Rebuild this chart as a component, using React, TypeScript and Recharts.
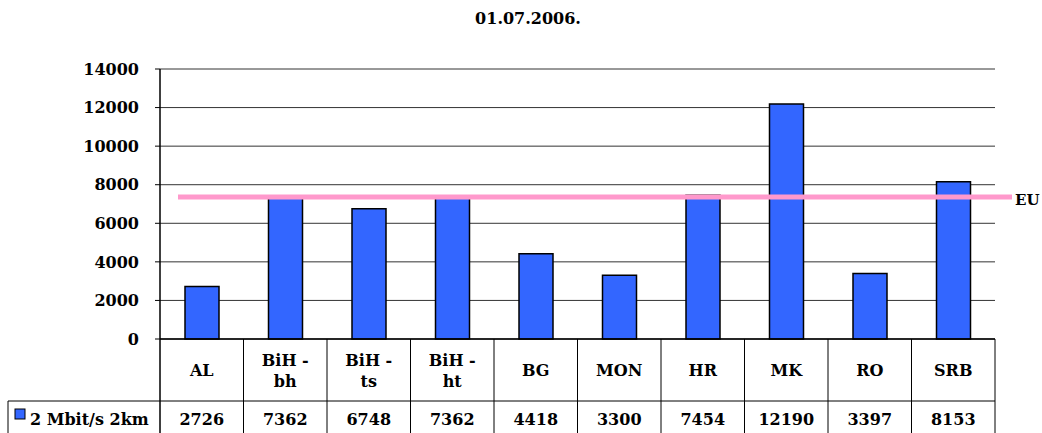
import {
  Bar,
  BarChart,
  CartesianGrid,
  ReferenceLine,
  XAxis,
  YAxis,
} from "recharts";

// values
const title = "01.07.2006.";
const seriesName = "2 Mbit/s 2km";
const categories = ["AL", "BiH - bh", "BiH - ts", "BiH - ht", "BG", "MON", "HR", "MK", "RO", "SRB"];
const values = [2726, 7362, 6748, 7362, 4418, 3300, 7454, 12190, 3397, 8153];
const yTicks = [0, 2000, 4000, 6000, 8000, 10000, 12000, 14000];
const euValue = 7360;
const euLabel = "EU";

const data = categories.map((c, i) => ({ cat: c, v: values[i] }));

const FONT = "'DejaVu Serif', serif";
const W = 1042;
const H = 433;
const PLOT_LEFT = 160;
const PLOT_RIGHT = 995;
const PLOT_BOTTOM = 339;
const BAND = (PLOT_RIGHT - PLOT_LEFT) / categories.length;
const ROW1 = 62; // category row height
const ROW2 = 40; // value row height

// x axis tick: draws the data table cell under each category
function TableTick(props: any) {
  const { x, y, payload, index } = props;
  const left = x - BAND / 2;
  const right = x + BAND / 2;
  const label: string = payload.value;
  const parts = label.includes(" - ") ? [label.split(" - ")[0] + " -", label.split(" - ")[1]] : [label];
  const mid = y + ROW1 / 2;
  return (
    <g fontFamily={FONT} fontWeight="bold" fontSize={16} fill="#000">
      <line x1={right} y1={y} x2={right} y2={y + ROW1 + ROW2} stroke="#000" strokeWidth={1} />
      {index === 0 && (
        <g>
          <line x1={left} y1={y} x2={left} y2={y + ROW1 + ROW2} stroke="#000" strokeWidth={1.5} />
          <line x1={8} y1={y + ROW1} x2={left} y2={y + ROW1} stroke="#000" strokeWidth={1} />
          <line x1={8} y1={y + ROW1} x2={8} y2={y + ROW1 + ROW2} stroke="#000" strokeWidth={1} />
          <rect x={15} y={y + ROW1 + 8} width={10} height={10} fill="#3366ff" stroke="#000" strokeWidth={1} />
          <text x={30} y={y + ROW1 + 24} textAnchor="start" fontSize={16}>
            {seriesName}
          </text>
        </g>
      )}
      <line x1={left} y1={y + ROW1} x2={right} y2={y + ROW1} stroke="#000" strokeWidth={1} />
      {parts.length === 1 ? (
        <text x={x} y={mid + 6} textAnchor="middle">
          {parts[0]}
        </text>
      ) : (
        <text x={x} y={mid - 4} textAnchor="middle">
          <tspan x={x} dy={0}>{parts[0]}</tspan>
          <tspan x={x} dy={21}>{parts[1]}</tspan>
        </text>
      )}
      <text x={x} y={y + ROW1 + 24} textAnchor="middle">
        {values[index]}
      </text>
    </g>
  );
}

function EuLine(props: any) {
  const { x1, x2, y1 } = props;
  return (
    <g>
      <line x1={x1 + 18} y1={y1} x2={x2 + 17} y2={y1} stroke="#ff99cc" strokeWidth={5} />
      <text x={x2 + 20} y={y1 + 8} fontFamily={FONT} fontWeight="bold" fontSize={15} fill="#000">
        {euLabel}
      </text>
    </g>
  );
}

export default function App() {
  return (
    <div style={{ position: "absolute", left: 0, top: 0, width: W, height: H, background: "#fff", overflow: "visible" }}>
      <div
        style={{
          position: "absolute",
          top: 9,
          left: 0,
          width: W,
          textAlign: "center",
          fontFamily: FONT,
          fontWeight: "bold",
          fontSize: 16,
          paddingLeft: 14,
          boxSizing: "border-box",
        }}
      >
        {title}
      </div>
      <BarChart
        width={W}
        height={H}
        data={data}
        margin={{ top: 69, right: W - PLOT_RIGHT, left: 0, bottom: 0 }}
        barSize={34}
        style={{ overflow: "visible" }}
      >
        <CartesianGrid vertical={false} stroke="#333" strokeWidth={1} />
        <XAxis
          dataKey="cat"
          interval={0}
          height={H - PLOT_BOTTOM}
          tickLine={false}
          tickSize={0}
          tickMargin={0}
          axisLine={{ stroke: "#000", strokeWidth: 1.5 }}
          tick={<TableTick />}
        />
        <YAxis
          width={PLOT_LEFT}
          domain={[0, 14000]}
          ticks={yTicks}
          interval={0}
          tickSize={5}
          tickMargin={16}
          axisLine={{ stroke: "#000", strokeWidth: 1.5 }}
          tickLine={{ stroke: "#000" }}
          tick={{ fontFamily: FONT, fontWeight: "bold", fontSize: 16, fill: "#000" }}
        />
        <YAxis
          yAxisId="r"
          orientation="right"
          width={0}
          domain={[0, 14000]}
          tick={false}
          tickLine={false}
          axisLine={{ stroke: "#999", strokeWidth: 1.5 }}
        />
        <Bar dataKey="v" fill="#3366ff" stroke="#000" strokeWidth={1.5} isAnimationActive={false} />
        <ReferenceLine y={euValue} ifOverflow="visible" shape={<EuLine />} />
      </BarChart>
    </div>
  );
}
